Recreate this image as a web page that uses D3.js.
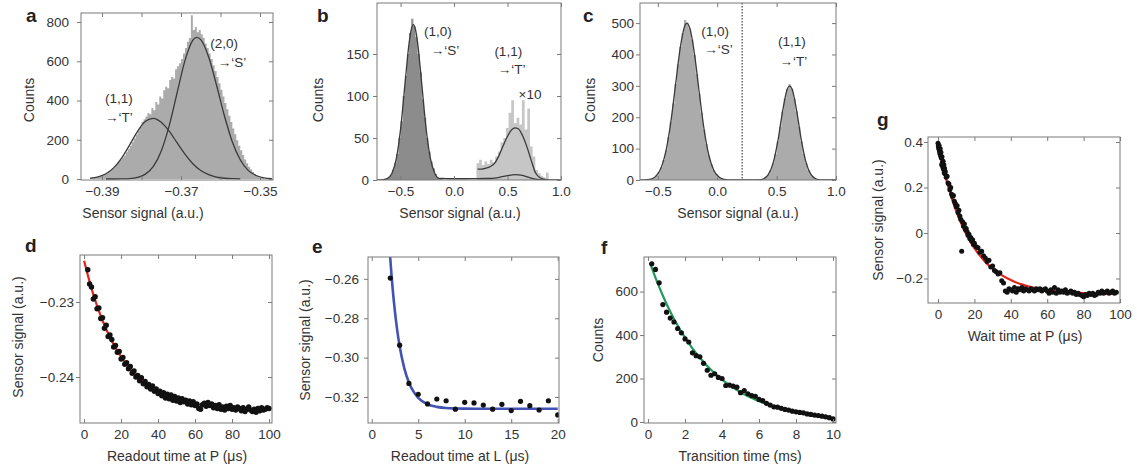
<!DOCTYPE html>
<html>
<head>
<meta charset="utf-8">
<script src="https://cdnjs.cloudflare.com/ajax/libs/d3/7.8.5/d3.min.js"></script>
<style>
  body { margin: 0; background: #fff; }
  svg text { font-family: "Liberation Sans", Arial, sans-serif; }
</style>
</head>
<body>
<svg id="fig" width="1137" height="471"></svg>
<script>
// ---- panel a : readout histogram at P ----
var aBinStart = -0.3930, aBinWidth = 0.0005;
var aCounts = [2,3,5,8,10,14,18,24,30,38,46,55,64,76,88,98,108,120,136,152,
  170,188,206,226,246,266,292,305,318,336,330,362,350,392,380,420,410,452,470,462,
  505,520,512,560,575,590,612,640,668,700,718,835,760,775,748,760,738,720,690,668,
  640,612,580,550,520,488,455,420,388,356,322,290,258,228,198,170,146,122,100,80,
  62,48,36,26,18,12,8,5];
var aFitTX = [-0.393,-0.391,-0.389,-0.387,-0.385,-0.383,-0.381,-0.379,-0.377,-0.375,-0.373,-0.371,-0.369,-0.367,-0.365,-0.363,-0.361,-0.359,-0.357,-0.355];
var aFitTY = [4,11,27,58,108,174,243,294,309,289,244,185,127,78,43,22,10,4,1.5,0.5];
var aFitSX = [-0.389,-0.387,-0.385,-0.383,-0.381,-0.379,-0.377,-0.375,-0.373,-0.371,-0.369,-0.367,-0.366,-0.365,-0.363,-0.361,-0.359,-0.357,-0.355,-0.353,-0.351,-0.349,-0.347];
var aFitSY = [0,0,0.5,2,8,25,64,143,271,438,603,708,722,710,622,478,321,189,98,44,18,6,2];
var aXTicks = [-0.39,-0.38,-0.37,-0.36,-0.35];
var aXLabelled = [-0.39,-0.37,-0.35];
var aYTicks = [0,200,400,600,800];

// ---- panel b : histogram at L ----
var bSBinStart = -0.66, bSBinWidth = 0.02;
var bSCounts = [1,2,3,6,12,20,31,50,70,100,124,150,175,192,183,170,150,128,96,74,50,34,22,14,7,3,2,1];
var bTBinStart = 0.21, bTBinWidth = 0.025;
var bTCountsX10 = [20,24,18,22,19,24,21,28,34,45,50,62,80,95,68,74,66,95,60,85,40,28,12,8,5,3,9,0];
var bFitX = [-0.72,-0.66,-0.62,-0.58,-0.54,-0.50,-0.46,-0.42,-0.40,-0.38,-0.36,-0.34,-0.30,-0.26,-0.22,-0.18,-0.14,-0.10,-0.05,0.0,0.1,0.2,0.3,0.4,0.45,0.5,0.57,0.64,0.7,0.76,0.82,0.9,1.0];
var bFitY = [0,0.4,2,8,25,60,112,163,179,185,179,163,112,60,25,8,2,1.8,1.5,1.5,1.5,1.6,1.8,2.6,4,5.2,6.4,5.5,3,1,0.2,0,0];
var bFitT10X = [0.22,0.26,0.30,0.34,0.38,0.42,0.46,0.50,0.54,0.57,0.60,0.64,0.68,0.72,0.76,0.80,0.84,0.88];
var bFitT10Y = [13,13,14,16,20,29,41,52,60,62,61,53,40,24,9,3,1,0];
var bXTicks = [-0.5,0,0.5,1.0];
var bYTicks = [0,50,100,150];

// ---- panel c : histogram with threshold ----
var cSBinStart = -0.60, cSBinWidth = 0.02;
var cSCounts = [1,2,4,8,15,25,41,64,95,136,186,244,306,369,424,468,510,499,483,448,
  398,338,275,214,160,114,78,51,32,19,11,6,3,2,1];
var cTBinStart = 0.30, cTBinWidth = 0.02;
var cTCounts = [0,0,1,2,4,9,17,31,53,83,123,170,218,260,290,305,290,260,218,170,123,83,53,31,17,9,4,2,1,0,0,0];
var cFitX = [-0.65,-0.59,-0.55,-0.51,-0.47,-0.43,-0.39,-0.35,-0.31,-0.27,-0.255,-0.23,-0.19,-0.15,-0.11,-0.07,-0.03,0.01,0.05,0.1,0.2,0.3,0.35,0.39,0.43,0.47,0.51,0.55,0.59,0.61,0.63,0.67,0.71,0.75,0.79,0.83,0.87,0.92,1.0];
var cFitY = [0,1,4,15,41,95,186,306,424,494,500,483,398,275,160,78,32,11,3,0.5,0,0,0.7,4,17,53,123,218,290,300,290,218,123,53,17,4,0.7,0,0];
var cThreshold = 0.21;
var cXTicks = [-0.5,0,0.5,1.0];
var cYTicks = [0,100,200,300,400,500];

// ---- panel d : readout time at P ----
var dTime = [2,3,4,5,6,7,8,9,10,11,12,13,14,15,16,17,18,19,20,21,22,23,24,25,26,27,28,29,30,
  31,32,33,34,35,36,37,38,39,40,41,42,43,44,45,46,47,48,49,50,51,52,53,54,55,56,57,58,59,60,
  61,62,63,64,65,66,67,68,69,70,71,72,73,74,75,76,77,78,79,80,81,82,83,84,85,86,87,88,89,90,
  91,92,93,94,95,96,97,98,99,100];
var dSignal = [-0.2257,-0.2276,-0.2280,-0.2296,-0.2293,-0.2309,-0.2308,-0.2322,-0.2321,
  -0.2335,-0.2331,-0.2346,-0.2344,-0.2350,-0.2360,-0.2358,-0.2367,-0.2366,-0.2376,
  -0.2374,-0.2383,-0.2381,-0.2389,-0.2386,-0.2395,-0.2392,-0.2400,-0.2398,-0.2405,
  -0.2401,-0.2409,-0.2406,-0.2413,-0.2410,-0.2416,-0.2412,-0.2419,-0.2416,-0.2422,
  -0.2419,-0.2425,-0.2421,-0.2428,-0.2423,-0.2429,-0.2424,-0.2431,-0.2426,-0.2432,
  -0.2428,-0.2434,-0.2429,-0.2433,-0.2431,-0.2436,-0.2432,-0.2437,-0.2433,-0.2438,
  -0.2436,-0.2442,-0.2443,-0.2437,-0.2435,-0.2439,-0.2434,-0.2438,-0.2436,-0.2441,
  -0.2438,-0.2442,-0.2437,-0.2443,-0.2440,-0.2444,-0.2439,-0.2442,-0.2438,-0.2443,
  -0.2441,-0.2444,-0.2440,-0.2442,-0.2445,-0.2441,-0.2446,-0.2443,-0.2440,-0.2444,
  -0.2446,-0.2443,-0.2447,-0.2442,-0.2445,-0.2441,-0.2444,-0.2443,-0.2441,-0.2442];
var dFitT = [0,2,5,10,15,20,25,30,35,40,50,60,70,80,90,100];
var dFitY = [-0.2245,-0.2264,-0.2290,-0.2325,-0.2352,-0.2373,-0.2390,-0.2402,-0.2412,-0.2419,-0.2430,-0.2436,-0.2439,-0.2442,-0.2443,-0.2444];
var dXTicks = [0,20,40,60,80,100];
var dYTicks = [-0.23,-0.24];

// ---- panel e : readout time at L ----
var eTime = [2,3,4,5,6,7,8,9,10,11,12,13,14,15,16,17,18,19,20];
var eSignal = [-0.2596,-0.2937,-0.3131,-0.3186,-0.3235,-0.3210,-0.3219,-0.3262,-0.3227,-0.3230,
  -0.3241,-0.3262,-0.3237,-0.3269,-0.3222,-0.3244,-0.3266,-0.3219,-0.3291];
var eFitT = [1.95,2,2.25,2.5,2.75,3,3.5,4,4.5,5,6,7,8,9,10,12,15,20];
var eFitY = [-0.2466,-0.2500,-0.2648,-0.2768,-0.2864,-0.2941,-0.3053,-0.3126,-0.3173,-0.3204,-0.3237,-0.3250,-0.3256,-0.3258,-0.3259,-0.3260,-0.3260,-0.3260];
var eXTicks = [0,5,10,15,20];
var eYTicks = [-0.26,-0.28,-0.30,-0.32];

// ---- panel f : transition time ----
var fTime = [0.2,0.4,0.6,0.8,1.0,1.2,1.4,1.6,1.8,2.0,2.2,2.4,2.6,2.8,3.0,3.2,3.4,3.6,3.8,4.0,
  4.2,4.4,4.6,4.8,5.0,5.2,5.4,5.6,5.8,6.0,6.2,6.4,6.6,6.8,7.0,7.2,7.4,7.6,7.8,8.0,
  8.2,8.4,8.6,8.8,9.0,9.2,9.4,9.6,9.8,10.0];
var fCounts = [728,702,640,540,505,478,460,430,410,382,368,318,305,300,270,238,215,222,205,200,
  168,170,165,160,135,145,130,122,118,104,98,86,78,70,68,63,58,55,50,47,
  44,42,37,35,32,30,27,24,20,14];
var fFitT = [0.1,0.5,1,1.5,2,2.5,3,3.5,4,4.5,5,6,7,8,9,10];
var fFitY = [733,642,543,459,388,327,276,232,195,164,137,96,66,44,28,17];
var fXTicks = [0,2,4,6,8,10];
var fYTicks = [0,200,400,600];

// ---- panel g : wait time at P ----
var gTime = [0,0.2,0.4,0.6,0.8,1,1.2,1.4,1.6,1.8,2,2.2,2.4,2.6,2.8,3,3.2,3.4,3.6,3.8,4,
  4.5,5,5.5,6,6.5,7,7.5,8,8.5,9,9.5,10,10.5,11,11.5,12,12.5,13,13.5,14,14.5,15,15.5,16,16.5,
  17,17.5,18,18.5,19,19.5,20,21,22,23,24,25,26,27,28,29,30,31,32,33,34,35,36,37,38,39,40,
  41,42,43,44,45,46,47,48,49,50,51,52,53,54,55,56,57,58,59,60,61,62,63,64,65,66,67,68,69,70,
  71,72,73,74,75,76,77,78,79,80,81,82,83,84,85,86,87,88,89,90,91,92,93,94,95,96,97,98];
var gSignal = [0.395,0.38,0.37,0.385,0.36,0.35,0.37,0.34,0.355,0.33,0.30,0.335,0.31,0.29,0.315,
  0.28,0.30,0.265,0.285,0.26,0.27,
  0.245,0.25,0.22,0.215,0.19,0.20,0.17,0.16,0.165,0.14,0.13,0.115,0.12,0.09,0.10,0.075,0.06,
  -0.08,0.05,0.03,0.04,0.015,0.02,0.005,-0.01,-0.005,-0.025,-0.02,-0.035,-0.03,-0.05,-0.045,
  -0.06,-0.065,-0.085,-0.08,-0.1,-0.11,-0.125,-0.12,-0.15,-0.145,-0.165,-0.17,-0.18,-0.175,
  -0.21,-0.22,-0.255,-0.26,-0.245,-0.25,-0.255,-0.24,-0.26,-0.245,-0.25,
  -0.24,-0.255,-0.245,-0.25,-0.255,-0.245,-0.25,-0.255,-0.245,-0.25,-0.245,-0.255,-0.25,-0.245,
  -0.255,-0.265,-0.25,-0.26,-0.24,-0.265,-0.25,-0.26,-0.255,-0.26,-0.25,-0.265,-0.26,-0.255,
  -0.265,-0.26,-0.27,-0.265,-0.27,-0.275,-0.28,-0.27,-0.275,-0.265,-0.27,-0.265,-0.275,-0.27,
  -0.26,-0.265,-0.255,-0.265,-0.26,-0.255,-0.265,-0.26,-0.255,-0.265,-0.26];
var gFitT = [0,2,4,6,8,10,12,14,16,18,20,22,24,26,28,30,34,38,42,46,50,55,60,65,70,80,90,98];
var gFitY = [0.39,0.317,0.252,0.194,0.142,0.096,0.056,0.020,-0.012,-0.041,-0.067,-0.089,-0.109,-0.127,-0.143,-0.157,-0.181,-0.199,-0.214,-0.226,-0.235,-0.244,-0.251,-0.256,-0.259,-0.264,-0.267,-0.268];
var gXTicks = [0,20,40,60,80,100];
var gYTicks = [-0.2,0,0.2,0.4];

// ---------------------------------------------------------------
var svg = d3.select('#fig');
var textColor = '#333', frameColor = '#7a7a7a';

function panel(o) {
  var l = o.box[0], t = o.box[1], r = o.box[2], b = o.box[3];
  var x = d3.scaleLinear().domain(o.xDomain).range([l, r]);
  var y = d3.scaleLinear().domain(o.yDomain).range([b, t]);
  var g = svg.append('g').attr('class', 'panel-' + o.id);
  g.append('clipPath').attr('id', 'clip-' + o.id)
    .append('rect').attr('x', l).attr('y', t).attr('width', r - l).attr('height', b - t);
  var plot = g.append('g').attr('clip-path', 'url(#clip-' + o.id + ')');
  return {x: x, y: y, g: g, plot: plot, o: o};
}

function frame(p) {
  var o = p.o, x = p.x, y = p.y, g = p.g;
  var l = o.box[0], t = o.box[1], r = o.box[2], b = o.box[3];
  g.append('g').attr('transform', 'translate(0,' + b + ')')
    .call(d3.axisBottom(x).tickValues(o.xTicks).tickFormat(o.xFormat).tickSize(-4).tickPadding(6));
  g.append('g').attr('transform', 'translate(0,' + t + ')')
    .call(d3.axisTop(x).tickValues(o.xTicks).tickFormat(function () { return ''; }).tickSize(-4));
  g.append('g').attr('transform', 'translate(' + l + ',0)')
    .call(d3.axisLeft(y).tickValues(o.yTicks).tickFormat(o.yFormat).tickSize(4).tickPadding(o.yPad));
  g.append('g').attr('transform', 'translate(' + r + ',0)')
    .call(d3.axisRight(y).tickValues(o.yTicks).tickFormat(function () { return ''; }).tickSize(-4));
  g.selectAll('.domain').remove();
  g.selectAll('.tick line').attr('stroke', frameColor);
  g.selectAll('.tick text').attr('font-size', 13.5).attr('fill', textColor);
  g.append('rect').attr('x', l).attr('y', t).attr('width', r - l).attr('height', b - t)
    .attr('fill', 'none').attr('stroke', frameColor).attr('stroke-width', 1);
  // axis titles
  g.append('text').attr('x', (o.xLabelX != null ? o.xLabelX : (l + r) / 2)).attr('y', b + 38)
    .attr('text-anchor', 'middle').attr('font-size', 14).attr('fill', textColor).text(o.xLabel);
  g.append('text').attr('transform', 'translate(' + o.yLabelX + ',' + (o.yLabelY != null ? o.yLabelY : (t + b) / 2) + ') rotate(-90)')
    .attr('text-anchor', 'middle').attr('dy', '0.35em')
    .attr('font-size', 14).attr('fill', textColor).text(o.yLabel);
  g.append('text').attr('x', o.letter[1]).attr('y', o.letter[2])
    .attr('font-size', 19).attr('font-weight', 'bold').attr('fill', '#222').text(o.letter[0]);
}

// histogram drawn as one stepped area so neighbouring bins leave no gaps
function bars(p, start, width, counts, fill) {
  var pts = counts.map(function (c, i) { return [start + i * width, c]; });
  pts.push([start + counts.length * width, counts[counts.length - 1]]);
  var area = d3.area().x(function (d) { return p.x(d[0]); })
    .y0(p.y(0)).y1(function (d) { return p.y(d[1]); })
    .curve(d3.curveStepAfter);
  p.plot.append('path').datum(pts).attr('d', area).attr('fill', fill);
}

function curve(p, xs, ys, color, w) {
  var line = d3.line().x(function (d) { return p.x(d[0]); }).y(function (d) { return p.y(d[1]); })
    .curve(d3.curveMonotoneX);
  p.plot.append('path').datum(d3.zip(xs, ys)).attr('d', line)
    .attr('fill', 'none').attr('stroke', color).attr('stroke-width', w);
}

function dots(p, xs, ys, r) {
  p.plot.append('g').selectAll('circle').data(d3.zip(xs, ys)).join('circle')
    .attr('cx', function (d) { return p.x(d[0]); })
    .attr('cy', function (d) { return p.y(d[1]); })
    .attr('r', r).attr('fill', '#111');
}

function note(p, xv, yv, s) {
  p.g.append('text').attr('x', p.x(xv)).attr('y', p.y(yv)).attr('text-anchor', 'middle')
    .attr('font-size', 13.5).attr('fill', textColor).text(s);
}

var f2 = d3.format('.2f'), f1 = d3.format('.1f'), f0 = d3.format('d');
var sigLabel = 'Sensor signal (a.u.)';

// a
var pa = panel({id: 'a', box: [81, 13, 273, 180], xDomain: [-0.39532, -0.34671], yDomain: [-5, 846],
  xTicks: aXTicks, yTicks: aYTicks, yPad: 8,
  xFormat: function (d) { return aXLabelled.some(function (v) { return Math.abs(v - d) < 1e-9; }) ? f2(d) : ''; },
  yFormat: f0, xLabel: sigLabel, xLabelX: 143, yLabel: 'Counts', yLabelX: 29, yLabelY: 100, letter: ['a', 26, 22]});
bars(pa, aBinStart, aBinWidth, aCounts, '#ababab');
curve(pa, aFitTX, aFitTY, '#3a3a3a', 1.3);
curve(pa, aFitSX, aFitSY, '#3a3a3a', 1.3);
frame(pa);
note(pa, -0.3857, 387, '(1,1)');
note(pa, -0.3857, 290, '\u2192\u2018T\u2019');
note(pa, -0.3591, 667, '(2,0)');
note(pa, -0.3571, 571, '\u2192\u2018S\u2019');

// b
var pb = panel({id: 'b', box: [377, 3, 561, 180], xDomain: [-0.72, 1.0], yDomain: [0, 210.7],
  xTicks: bXTicks, yTicks: bYTicks, yPad: 4, xFormat: f1, yFormat: f0,
  xLabel: sigLabel, xLabelX: 460, yLabel: 'Counts', yLabelX: 318, yLabelY: 100, letter: ['b', 317, 22]});
bars(pb, bTBinStart, bTBinWidth, bTCountsX10, '#c6c6c6');
bars(pb, bSBinStart, bSBinWidth, bSCounts, '#8c8c8c');
curve(pb, bFitX, bFitY, '#3a3a3a', 1.3);
curve(pb, bFitT10X, bFitT10Y, '#3a3a3a', 1.3);
frame(pb);
note(pb, -0.15, 171, '(1,0)');
note(pb, -0.084, 149, '\u2192\u2018S\u2019');
note(pb, 0.507, 148, '(1,1)');
note(pb, 0.539, 126, '\u2192\u2018T\u2019');
note(pb, 0.71, 96, '\u00d710');

// c
var pc = panel({id: 'c', box: [640, 3, 836, 180], xDomain: [-0.65, 1.0], yDomain: [0, 564],
  xTicks: cXTicks, yTicks: cYTicks, yPad: 2, xFormat: f1, yFormat: f0,
  xLabel: sigLabel, xLabelX: 738, yLabel: 'Counts', yLabelX: 590, yLabelY: 100, letter: ['c', 583, 22]});
bars(pc, cSBinStart, cSBinWidth, cSCounts, '#ababab');
bars(pc, cTBinStart, cTBinWidth, cTCounts, '#ababab');
curve(pc, cFitX, cFitY, '#3a3a3a', 1.3);
pc.plot.append('line').attr('x1', pc.x(cThreshold)).attr('x2', pc.x(cThreshold))
  .attr('y1', pc.y(pc.y.domain()[1])).attr('y2', pc.y(0))
  .attr('stroke', '#444').attr('stroke-width', 1.2).attr('stroke-dasharray', '1.5,1.5');
frame(pc);
note(pc, -0.017, 459, '(1,0)');
note(pc, 0.011, 400, '\u2192\u2018S\u2019');
note(pc, 0.629, 427, '(1,1)');
note(pc, 0.642, 363, '\u2192\u2018T\u2019');

// d
var pd = panel({id: 'd', box: [80, 255, 272, 423], xDomain: [-2.2, 101.6], yDomain: [-0.24613, -0.22373],
  xTicks: dXTicks, yTicks: dYTicks, yPad: 2, xFormat: f0, yFormat: f2,
  xLabel: 'Readout time at P (\u03bcs)', xLabelX: 177, yLabel: sigLabel, yLabelX: 18, yLabelY: 337,
  letter: ['d', 25, 252]});
curve(pd, dFitT, dFitY, '#e3241b', 2.2);
dots(pd, dTime, dSignal, 2.7);
frame(pd);

// e
var pe = panel({id: 'e', box: [368, 257, 559, 423], xDomain: [-0.4, 20.14], yDomain: [-0.3332, -0.2489],
  xTicks: eXTicks, yTicks: eYTicks, yPad: 5, xFormat: f0, yFormat: f2,
  xLabel: 'Readout time at L (\u03bcs)', xLabelX: 460, yLabel: sigLabel, yLabelX: 305, yLabelY: 340,
  letter: ['e', 312, 253]});
curve(pe, eFitT, eFitY, '#4353b3', 2.6);
dots(pe, eTime, eSignal, 2.6);
frame(pe);

// f
var pf = panel({id: 'f', box: [644, 257, 836, 423], xDomain: [-0.22, 10.16], yDomain: [-4.6, 759],
  xTicks: fXTicks, yTicks: fYTicks, yPad: 2, xFormat: f0, yFormat: f0,
  xLabel: 'Transition time (ms)', xLabelX: 740, yLabel: 'Counts', yLabelX: 598, yLabelY: 340,
  letter: ['f', 601, 254]});
curve(pf, fFitT, fFitY, '#1f9a5a', 2.2);
dots(pf, fTime, fCounts, 2.6);
frame(pf);

// g
var pg = panel({id: 'g', box: [928, 137, 1120, 303], xDomain: [-5.5, 100], yDomain: [-0.3077, 0.422],
  xTicks: gXTicks, yTicks: gYTicks, yPad: 1, xFormat: f0,
  yFormat: function (d) { return d === 0 ? '0' : f1(d); },
  xLabel: 'Wait time at P (\u03bcs)', xLabelX: 1025, yLabel: sigLabel, yLabelX: 878, yLabelY: 220,
  letter: ['g', 877, 126]});
curve(pg, gFitT, gFitY, '#e3241b', 2.2);
dots(pg, gTime, gSignal, 2.5);
frame(pg);
</script>
</body>
</html>
